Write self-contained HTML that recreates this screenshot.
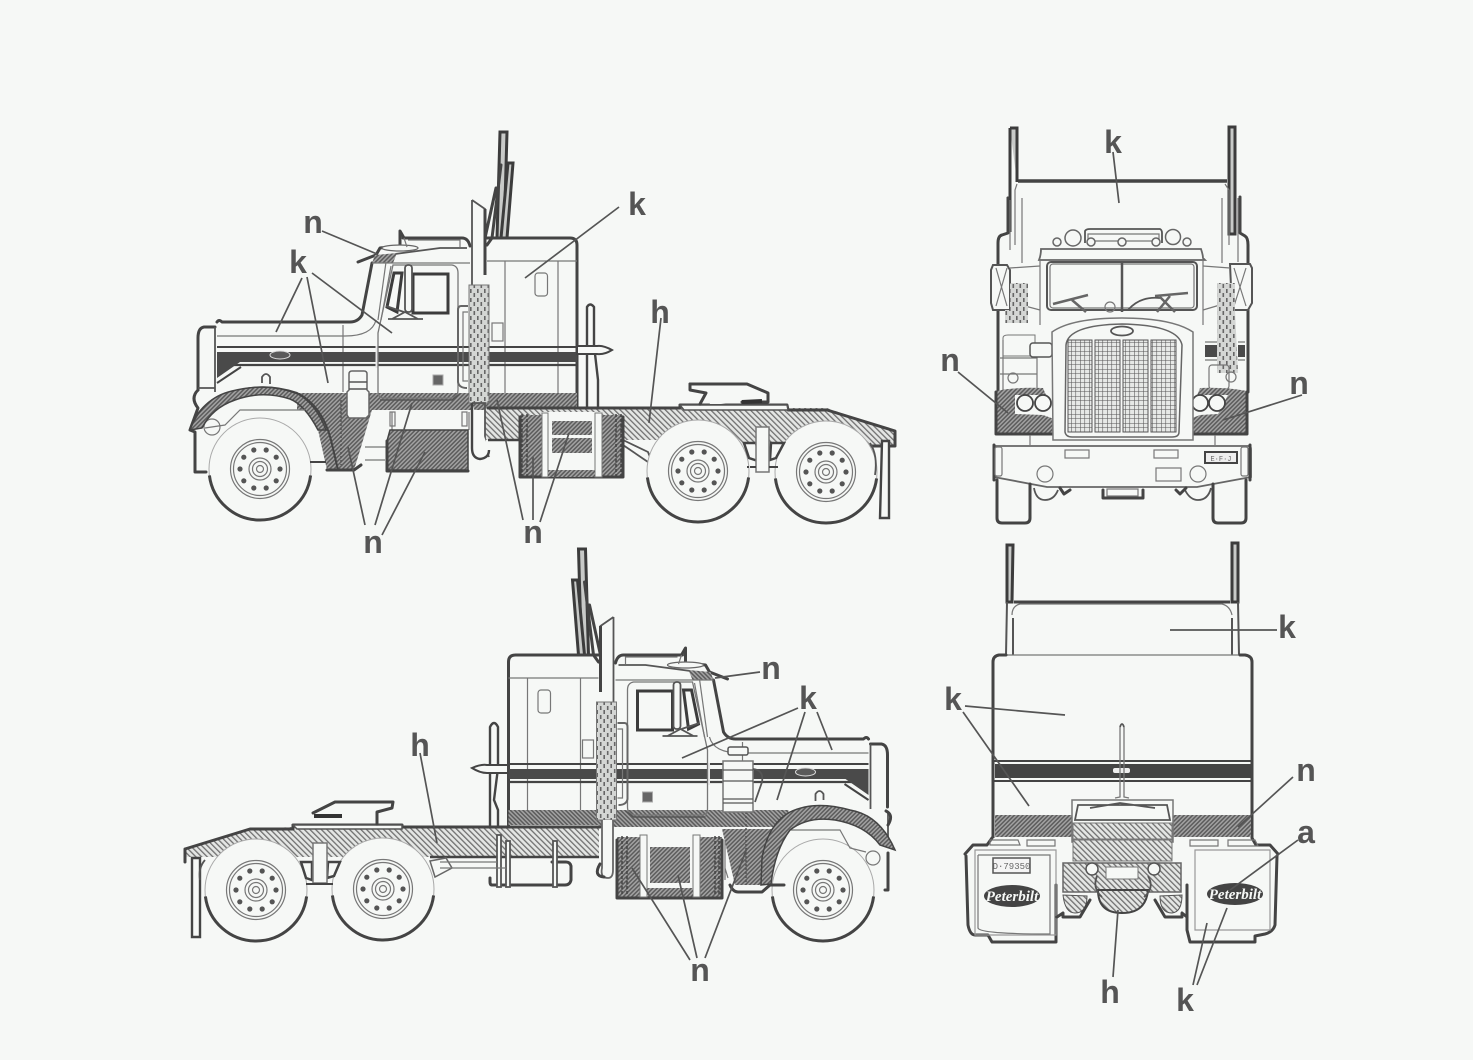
<!DOCTYPE html>
<html><head><meta charset="utf-8"><style>
html,body{margin:0;padding:0;background:#f6f8f6}
svg{display:block}
text.l{font-family:"Liberation Sans",sans-serif;font-weight:700;font-size:32px;fill:#555;text-anchor:middle}
.o{fill:none;stroke:#444;stroke-width:3;stroke-linejoin:round;stroke-linecap:round}
.t{fill:none;stroke:#777;stroke-width:1.2}
.m{fill:none;stroke:#555;stroke-width:1.8}
.f{fill:#f6f8f6;stroke:#555;stroke-width:1.8}
.ld{stroke:#555;stroke-width:1.7;fill:none}
</style></head><body>
<svg width="1473" height="1060" viewBox="0 0 1473 1060" xmlns="http://www.w3.org/2000/svg">
<defs>
<pattern id="hd" width="3" height="3" patternUnits="userSpaceOnUse" patternTransform="rotate(45)"><rect width="3" height="3" fill="#a2a2a2"/><rect width="1.5" height="3" fill="#5c5c5c"/></pattern>
<pattern id="hl" width="4" height="4" patternUnits="userSpaceOnUse" patternTransform="rotate(-45)"><rect width="4" height="4" fill="#e4e6e4"/><rect width="1.3" height="4" fill="#707070"/></pattern>
<pattern id="pf" width="7" height="9" patternUnits="userSpaceOnUse"><rect width="7" height="9" fill="#d4d6d4"/><rect x="1" y="1" width="1.6" height="4" fill="#666"/><rect x="4.5" y="5" width="1.6" height="4" fill="#666"/></pattern>
<pattern id="gr" width="4.5" height="4.5" patternUnits="userSpaceOnUse"><rect width="4.5" height="4.5" fill="#e6e8e6"/><path d="M0 0H4.5M0 0V4.5" stroke="#555" stroke-width="1.1"/></pattern>
<g id="wheel">
<circle r="51" fill="#f6f8f6" stroke="#aaa" stroke-width="1"/>
<path d="M-50.6 6.4 A51 51 0 0 0 50.6 6.4" fill="none" stroke="#444" stroke-width="3"/>
<circle r="29.5" class="t"/><circle r="26.5" class="t"/>
<circle r="11" class="t"/><circle r="7.5" class="t"/><circle r="3.5" class="t"/>
<g fill="#555"><circle cx="20" cy="0" r="2.6"/><circle cx="16.2" cy="11.8" r="2.6"/><circle cx="6.2" cy="19" r="2.6"/><circle cx="-6.2" cy="19" r="2.6"/><circle cx="-16.2" cy="11.8" r="2.6"/><circle cx="-20" cy="0" r="2.6"/><circle cx="-16.2" cy="-11.8" r="2.6"/><circle cx="-6.2" cy="-19" r="2.6"/><circle cx="6.2" cy="-19" r="2.6"/><circle cx="16.2" cy="-11.8" r="2.6"/></g>
</g>
<g id="body">
<!-- stacks behind -->
<path d="M500 132H507L504 238H497Z" fill="#c8cac8" stroke="#3c3c3c" stroke-width="3"/>
<path d="M508 163H513L507 238H501Z" fill="#c8cac8" stroke="#3c3c3c" stroke-width="3"/>
<path d="M496 188L485 238H492L501 165" class="o" stroke-width="2.600"/>
<!-- sleeper -->
<path d="M487 245L492 238H570Q577 238 577 245V408H487Z" fill="#f6f8f6"/>
<path d="M487 245L492 238H570Q577 238 577 245V408" class="o"/>
<path d="M487 261H577M505 261V393M558 261V393" class="t"/>
<rect x="535" y="273" width="12.500" height="23" rx="3" class="t"/>
<rect x="492" y="323" width="11" height="18" class="t"/>
<!-- band -->
<rect x="297" y="393" width="280" height="15" fill="url(#hd)"/>
<rect x="297" y="393" width="190" height="17" fill="url(#hd)"/>
<!-- hood / cab -->
<path d="M403 238H462Q468 238 470 246" class="o"/>
<path d="M358 262L376 255L380 248L400 246L400 231L404 238" class="o"/>
<ellipse cx="400" cy="248" rx="18" ry="3" fill="#f6f8f6" stroke="#666" stroke-width="1.300"/>
<path d="M395 254L440 248L467 248" class="m"/>
<path d="M404 238L407 247M408 240H460V247" class="t"/>
<path d="M375 255L397 253L393 263H372Z" fill="url(#hd)"/>
<path d="M372 263L362 315Q358 322 350 322H222Q219 319 217 322" class="o"/>
<path d="M386 262L378 320M391 266L381 320M372 263H470" class="t"/>
<path d="M217 336H345Q372 336 376 320" class="t"/>
<path d="M343 325V392" class="t"/>
<path d="M217 347H577" stroke="#444" stroke-width="2"/>
<path d="M217 365H240M240 365H577" stroke="#444" stroke-width="2.200"/>
<path d="M217 352H577V362H240L217 378Z" fill="#4a4a4a"/>
<path d="M217 383L241 367" stroke="#444" stroke-width="2"/>
<rect x="375.500" y="346" width="3" height="22" fill="#e8e8e8"/>
<ellipse cx="280" cy="355" rx="10" ry="4" fill="#5a5a5a" stroke="#ddd" stroke-width="1"/>
<path d="M215 327H204Q198 328 198 338V390" class="o"/>
<path d="M215 327V392" class="m"/>
<path d="M393 265H452Q458 266 458 273V390Q458 397 451 398H384Q378 398 378 392V333Z" fill="none" stroke="#777" stroke-width="1.300"/>
<path d="M380 400H452L460 394" stroke="#555" stroke-width="1.500" fill="none"/>
<rect x="413" y="274" width="35" height="39" fill="#f6f8f6" stroke="#3c3c3c" stroke-width="3"/>
<path d="M394 273H402L397 312L387 307Z" fill="#f6f8f6" stroke="#3c3c3c" stroke-width="3"/>
<rect x="405" y="265" width="7" height="47" rx="3" class="f"/>
<path d="M388 319H423M392 319L405 312L418 319M404 312L386 306" class="m"/>
<rect x="433" y="375" width="10" height="10" fill="#666" stroke="#aaa"/>
<path d="M468 306H461Q458 306 458 310V382Q459 388 467 388" fill="none" stroke="#666" stroke-width="2"/>
<path d="M468 312H463V381H468" class="t"/>
<!-- stack -->
<path d="M472 200L485 208V285H472Z" fill="#f6f8f6"/>
<path d="M472 200L485 209V272M472 200V285" class="m"/>
<path d="M485 209V275" stroke="#444" stroke-width="3"/>
<rect x="469" y="285" width="20" height="118" fill="url(#pf)" stroke="#777"/>
<!-- fender bump -->
<path d="M262 383V377Q266 371 270 377V384" class="m" fill="#f6f8f6"/>
</g>
</defs>
<rect width="1473" height="1060" fill="#f6f8f6"/>

<!-- ========== TOP SIDE VIEW ========== -->
<use href="#body"/>
<!-- post -->
<path d="M587 407V307Q590 302 594 307V345L598 380V407" fill="#f6f8f6" stroke="#444" stroke-width="2.400"/>
<path d="M577 346H597Q603 345 612 350Q604 355 597 354H577Z" fill="#f6f8f6" stroke="#444" stroke-width="2"/>
<!-- frame -->
<path d="M485 408H827L895 432V445H660V440H485Z" fill="url(#hl)"/>
<path d="M488 408H680V405H787L788 410H827L895 431V446H870" class="o"/>
<path d="M680 405H787L788 410H684Z" fill="#f6f8f6" stroke="#555" stroke-width="1.500"/>
<path d="M690 383H747L768 392V402H740L721 404H710L700 390H690Z" fill="#f6f8f6"/>
<path d="M690 384H747L768 393V402H742" class="o"/>
<path d="M690 384V390L706 393L700 404" class="o" stroke-width="2"/>
<path d="M742 402L762 401" stroke="#333" stroke-width="4"/>
<path d="M488 440H520" stroke="#444" stroke-width="2.500"/>
<path d="M623 440L648 452L655 470" class="m"/>
<path d="M623 445L648 462" class="m"/>
<!-- wheels -->
<use href="#wheel" x="698" y="471"/>
<use href="#wheel" x="826" y="472"/>
<!-- suspension -->
<path d="M744 443H756L761 462L749 458Z" fill="#f6f8f6" stroke="#444" stroke-width="2.500"/>
<path d="M771 443H784L776 458L770 460Z" fill="#f6f8f6" stroke="#444" stroke-width="2.500"/>
<rect x="756" y="427" width="13" height="45" fill="#f6f8f6" stroke="#777" stroke-width="1.500"/>
<path d="M750 467H756M769 467H778M748 466V468" stroke="#444" stroke-width="2"/>
<!-- mudflap -->
<path d="M882 441H889V518H880Z" fill="#f6f8f6" stroke="#444" stroke-width="2.400"/>
<path d="M870 443Q878 455 875 475" class="m"/>
<!-- front wheel & fender -->
<path d="M198 390Q190 398 198 408L190 430L195 432V472H206" class="o" stroke-width="2.500"/>
<path d="M198 388H215" class="m"/>
<circle cx="212" cy="427" r="8" class="t"/>
<use href="#wheel" x="260" y="469"/>
<path d="M300 393H377L361 447L354 470H327L318 430L303 407Z" fill="url(#hd)"/>
<path d="M190 430Q200 400 232 392Q265 382 297 393Q322 405 331 440L338 470" fill="none" stroke="#444" stroke-width="2"/>
<path d="M190 430Q202 398 232 391Q268 382 298 394Q316 404 326 430L318 430Q305 405 290 399Q262 390 235 400Q212 408 202 428Z" fill="url(#hd)" stroke="#444" stroke-width="1.500"/>
<path d="M327 470H354L361 465" class="o"/>
<path d="M310 462H326" stroke="#444" stroke-width="2"/>
<path d="M205 428L225 425L240 410H305" class="t"/>
<path d="M341 400V465" stroke="#555" stroke-dasharray="2 2" stroke-width="1.500"/>
<!-- air cleaner -->
<path d="M349 374Q349 371 352 371H364Q367 371 367 374V390L369 392V415L366 418H349L347 415V392L349 390Z" fill="#f6f8f6" stroke="#666" stroke-width="1.500"/>
<path d="M349 382H367M349 389H367" stroke="#555" stroke-width="1.500"/>
<!-- under cab -->
<path d="M365 447H390M365 460H385M392 412V430M469 412V430" class="t"/>
<path d="M390 430H468V470H387V441Z" fill="url(#hd)" stroke="#444" stroke-width="1.500"/>
<path d="M387 441V471H468" class="o"/>
<rect x="390" y="412" width="5" height="14" class="t"/><rect x="462" y="412" width="5" height="14" class="t"/>
<!-- pipe -->
<path d="M472 403H485V450Q488 454 489 457" class="m"/>
<path d="M472 403V448Q472 458 480 459Q489 458 489 450" fill="#f6f8f6" stroke="#444" stroke-width="2.400"/>
<!-- fuel tank -->
<rect x="520" y="415" width="103" height="62" fill="url(#hd)"/>
<path d="M520 417V477H623V417" class="o" stroke-width="2.500"/>
<path d="M522 414V477M527 414V477" stroke="#444" stroke-dasharray="3 2" stroke-width="1.500"/>
<path d="M616 414V477M621 414V477" stroke="#444" stroke-dasharray="3 2" stroke-width="1.500"/>
<rect x="542" y="412" width="60" height="58" fill="#f6f8f6"/>
<rect x="542" y="413" width="6" height="64" fill="#f6f8f6" stroke="#777"/>
<rect x="595" y="413" width="7" height="64" fill="#f6f8f6" stroke="#777"/>
<rect x="552" y="421" width="40" height="14" fill="url(#hd)"/>
<rect x="552" y="438" width="40" height="15" fill="url(#hd)"/>
<rect x="548" y="470" width="47" height="7" fill="url(#hd)"/>

<!-- ========== BOTTOM SIDE VIEW ========== -->
<use href="#body" transform="translate(1085.5,417) scale(-1,1)"/>
<path d="M490 826V727Q494 719 498 727V768L494 800L498 810V826" fill="#f6f8f6" stroke="#444" stroke-width="2.400"/>
<path d="M508 765H487Q481 764 472 768Q480 773 487 773H508Z" fill="#f6f8f6" stroke="#444" stroke-width="2"/>
<path d="M185 849L250 829L293 827H599V857H185Z" fill="url(#hl)"/>
<path d="M185 849V862M185 849L250 829H293V825H402V827H600" class="o"/>
<path d="M293 825H402V829H297Z" fill="#f6f8f6" stroke="#555" stroke-width="1.500"/>
<path d="M313 812L335 802H393L392 808L377 812V823H313Z" fill="#f6f8f6"/>
<path d="M313 813L335 802H393L392 808L377 812V824" class="o"/>
<path d="M314 816H342" stroke="#333" stroke-width="4"/>
<path d="M430 857H599" stroke="#444" stroke-width="2.500"/>
<use href="#wheel" x="256" y="890"/>
<use href="#wheel" x="383" y="889"/>
<path d="M301 862H312V880L306 878Z" fill="#f6f8f6" stroke="#444" stroke-width="2.500"/>
<path d="M328 862H340L334 876L327 878Z" fill="#f6f8f6" stroke="#444" stroke-width="2.500"/>
<rect x="313" y="843" width="14" height="40" fill="#f6f8f6" stroke="#777" stroke-width="1.500"/>
<path d="M306 884H333" stroke="#444" stroke-width="2"/>
<path d="M192 858H200V937H192Z" fill="#f6f8f6" stroke="#444" stroke-width="2.400"/>
<path d="M205 860Q198 868 200 880" class="m"/>
<!-- air tank -->
<path d="M430 861L446 858L452 868L435 877Z" fill="#f6f8f6" stroke="#666" stroke-width="1.500"/>
<path d="M490 862H566Q571 864 571 870V880Q570 885 565 885H492Q489 883 489 878Z" fill="#f6f8f6"/>
<path d="M492 885H565Q570 885 571 880V866Q570 862 566 862H552" class="o"/>
<path d="M490 878V882Q490 885 492 885" class="o"/>
<rect x="497" y="835" width="4" height="52" class="f" stroke-width="1.200"/>
<rect x="506" y="841" width="4" height="46" class="f" stroke-width="1.200"/>
<rect x="553" y="841" width="4" height="46" class="f" stroke-width="1.200"/>
<path d="M440 862H497M440 868H506" class="t"/>
<!-- pipe -->
<path d="M602 820V868Q600 878 608 878Q613 878 613 870V820" fill="#f6f8f6" stroke="#666" stroke-width="1.800"/>
<path d="M600 864Q593 876 604 877" class="o"/>
<!-- fuel tank bottom -->
<rect x="617" y="837" width="105" height="61" fill="url(#hd)"/>
<path d="M617 840V898H722V840" class="o" stroke-width="2.500"/>
<path d="M622 836V896M627 836V896M715 836V896M719 836V896" stroke="#444" stroke-dasharray="3 2" stroke-width="1.500"/>
<rect x="640" y="835" width="60" height="53" fill="#f6f8f6"/>
<rect x="640" y="835" width="7" height="62" fill="#f6f8f6" stroke="#777"/>
<rect x="693" y="835" width="7" height="62" fill="#f6f8f6" stroke="#777"/>
<rect x="650" y="847" width="40" height="36" fill="url(#hd)"/>
<rect x="647" y="888" width="46" height="8" fill="url(#hd)"/>
<!-- front wheel -->
<use href="#wheel" x="823" y="890"/>
<path d="M888 811V840L895 850" class="m"/>
<path d="M886 811Q894 815 888 825" class="o" stroke-width="2.500"/>
<path d="M888 853V890H885" class="o" stroke-width="2.500"/>
<circle cx="873" cy="858" r="7" class="t"/>
<path d="M866 852L850 848L840 830H780" class="t"/>
<!-- fender -->
<path d="M722 829H773L767 845L763 885H735Z" fill="url(#hd)"/>
<path d="M895 850Q880 815 850 810Q815 800 790 812Q768 824 762 858L761 885L771 884Q775 850 790 830Q808 816 835 820Q865 825 880 845Z" fill="url(#hd)" stroke="#444" stroke-width="1.500"/>
<path d="M730 885Q733 892 738 892H762L770 885H784" class="o"/>
<path d="M746 812V885" stroke="#555" stroke-dasharray="2 2" stroke-width="1.500"/>
<path d="M725 840L725 880M725 868L728 878" class="t"/>
<!-- air cleaner -->
<rect x="728" y="747" width="20" height="8" rx="2" fill="#f6f8f6" stroke="#555" stroke-width="1.500"/>
<rect x="723" y="761" width="30" height="51" fill="#f6f8f6" stroke="#777" stroke-width="1.500"/>
<path d="M723 770H753M723 781H753M723 799H753M723 803H753" stroke="#555" stroke-width="1.200"/>
<path d="M753 769Q764 770 762 782L755 802" class="m"/>

<!-- ========== FRONT VIEW ========== -->
<path d="M1010 128H1017V182M1010 128V232" fill="#c8cac8" stroke="#3c3c3c" stroke-width="3"/>
<path d="M1229 127H1235V234H1229Z" fill="#c8cac8" stroke="#3c3c3c" stroke-width="3"/>
<path d="M1018 181H1227" stroke="#444" stroke-width="3.500"/>
<path d="M1017 184L1015 190V245M1225 184L1229 190V245" class="t"/>
<path d="M1008 198V233L1002 235Q998 236 998 243V265M1240 197V233L1245 236Q1248 238 1248 245V265" class="o"/>
<path d="M1008 198V232" class="o"/>
<path d="M1010 200V250M1022 198V263" class="t"/>
<path d="M1222 198V263M1238 198V262" class="t"/>
<path d="M998 310V392M1248 310V392" class="o"/>
<!-- lights -->
<path d="M1085 243V231Q1086 229 1090 229H1160Q1162 230 1162 233V243" class="m"/>
<path d="M1088 234H1159V241H1088Z" class="t"/>
<g fill="#f6f8f6" stroke="#666" stroke-width="1.500">
<circle cx="1073" cy="238" r="8"/><circle cx="1173" cy="237" r="7.500"/>
<circle cx="1057" cy="242" r="4"/><circle cx="1091" cy="242" r="4"/><circle cx="1122" cy="242" r="4"/><circle cx="1156" cy="242" r="4"/><circle cx="1187" cy="242" r="4"/>
</g>
<path d="M1041 249H1201Q1203 255 1203 258L1205 260H1039Q1041 255 1041 249Z" fill="#f6f8f6" stroke="#666" stroke-width="1.800"/>
<path d="M1040 260V325M1203 260V325" class="t"/>
<rect x="1047" y="262" width="150" height="48" rx="4" fill="#f6f8f6" stroke="#555" stroke-width="2"/>
<rect x="1050" y="264" width="144" height="44" rx="3" class="t"/>
<path d="M1122 262V312" stroke="#555" stroke-width="2.500"/>
<path d="M1053 304L1088 295M1072 300L1086 312M1155 296L1188 293M1170 296L1157 312M1160 297L1175 312" stroke="#666" stroke-width="2.500" fill="none"/>
<path d="M1128 310Q1140 296 1160 298" class="m"/>
<circle cx="1110" cy="307" r="5" class="t"/>
<!-- mirrors -->
<path d="M993 265H1007L1010 270V310H993L991 303V270Z" fill="#f6f8f6" stroke="#555" stroke-width="2"/>
<path d="M996 268L1007 306M1007 268L996 306" class="t"/>
<path d="M1230 264H1250L1252 268V303L1248 310H1232Z" fill="#f6f8f6" stroke="#555" stroke-width="2"/>
<path d="M1234 268L1246 306M1246 268L1234 306" class="t"/>
<path d="M1010 268L1040 266M1010 302L1040 310M1203 266L1230 268M1203 310L1230 302" class="t"/>
<!-- perforated -->
<path d="M1010 283H1028V323H1005V310H1010Z" fill="url(#pf)"/>
<path d="M1217 283H1235V310H1235L1238 373H1217Z" fill="url(#pf)"/>
<rect x="1205" y="345" width="12" height="12" fill="#4a4a4a"/>
<rect x="1238" y="345" width="7" height="12" fill="#4a4a4a"/>
<path d="M1205 342H1217M1205 360H1217M1238 342H1245M1238 360H1245" class="t"/>
<!-- left side under cab -->
<path d="M1003 338Q1003 335 1008 335H1035V356H1003Z" fill="#f6f8f6" stroke="#777"/>
<path d="M1000 358H1037V390M1003 340V390M1000 374H1037" class="t"/>
<rect x="1030" y="343" width="22" height="14" rx="3" fill="#f6f8f6" stroke="#555" stroke-width="1.500"/>
<circle cx="1013" cy="378" r="5" class="t"/>
<rect x="1209" y="365" width="20" height="24" rx="3" class="t"/><circle cx="1231" cy="377" r="5" class="t"/>
<!-- hatched corners -->
<path d="M996 391Q1015 387 1043 388L1058 423V433H996Z" fill="url(#hd)"/>
<path d="M996 392V434M996 434H1058" class="o" stroke-width="2.500"/>
<path d="M1247 391Q1225 387 1200 388L1186 423V433H1247Z" fill="url(#hd)"/>
<path d="M1247 392V434M1247 434H1186" class="o" stroke-width="2.500"/>
<path d="M1015 395H1047L1057 410V420L1043 415L1015 414Z" fill="#f6f8f6"/>
<path d="M1195 395H1228L1218 414L1200 415L1187 420V410Z" fill="#f6f8f6"/>
<g fill="#f6f8f6" stroke="#444" stroke-width="1.800">
<circle cx="1025" cy="403" r="8"/><circle cx="1043" cy="403" r="8"/>
<circle cx="1200" cy="403" r="8"/><circle cx="1217" cy="403" r="8"/>
</g>
<!-- grille -->
<path d="M1052 332Q1072 318 1122 318Q1172 318 1193 332V440H1053Z" fill="#f6f8f6" stroke="#777" stroke-width="1.500"/>
<path d="M1066 345Q1068 325 1122 324Q1178 325 1182 345L1179 432Q1179 437 1172 437H1072Q1066 437 1065 432Z" fill="#f6f8f6" stroke="#666" stroke-width="1.500"/>
<rect x="1068" y="340" width="24" height="92" fill="url(#gr)" stroke="#555"/>
<rect x="1095" y="340" width="25" height="92" fill="url(#gr)" stroke="#555"/>
<rect x="1123" y="340" width="25" height="92" fill="url(#gr)" stroke="#555"/>
<rect x="1151" y="340" width="25" height="92" fill="url(#gr)" stroke="#555"/>
<ellipse cx="1122" cy="331" rx="11" ry="4.500" fill="#f6f8f6" stroke="#555" stroke-width="1.800"/>
<!-- bumper -->
<path d="M994 446H1250Q1251 446 1251 450V477L1197 487H1047L994 477Z" fill="#f6f8f6" stroke="#666" stroke-width="1.800"/>
<path d="M994 445V480M1250 445V480" class="o" stroke-width="2"/>
<rect x="995" y="447" width="7" height="29" rx="2" class="t"/><rect x="1241" y="447" width="7" height="29" rx="2" class="t"/>
<rect x="1065" y="450" width="24" height="8" class="t"/><rect x="1154" y="450" width="24" height="8" class="t"/>
<rect x="1156" y="468" width="25" height="13" class="t"/>
<rect x="1205" y="452" width="32" height="11" fill="#eee" stroke="#444" stroke-width="2"/>
<text x="1221" y="461" font-family="Liberation Mono,monospace" font-size="7" fill="#666" text-anchor="middle">E·F·J</text>
<circle cx="1045" cy="474" r="8" class="t"/><circle cx="1198" cy="474" r="8" class="t"/>
<path d="M1030 435V445M1215 435V445" class="t"/>
<!-- tires -->
<path d="M997 480V518Q997 523 1002 523H1025Q1030 523 1030 518V484" class="o" stroke-width="2.500"/>
<path d="M1246 480V518Q1246 523 1241 523H1218Q1213 523 1213 518V484" class="o" stroke-width="2.500"/>
<path d="M1034 488Q1036 500 1045 500Q1054 500 1058 490M1185 490Q1190 500 1198 500Q1208 500 1211 488" class="m"/>
<path d="M1060 488L1064 494L1070 490M1103 490V498H1143V490M1176 490L1180 494L1186 488" class="o" stroke-width="2"/>
<rect x="1107" y="489" width="31" height="7" class="t"/>

<!-- ========== REAR VIEW ========== -->
<path d="M1007 545H1013L1012 602H1007Z" fill="#c8cac8" stroke="#3c3c3c" stroke-width="3"/>
<path d="M1232 543H1238L1238 602H1232Z" fill="#c8cac8" stroke="#3c3c3c" stroke-width="3"/>
<path d="M1007 602L1006 655M1013 618V655M1232 618V655M1238 602L1239 655" stroke="#555" stroke-width="2" fill="none"/>
<path d="M1014 602H1230" stroke="#444" stroke-width="3"/>
<path d="M1012 615Q1012 606 1020 604H1222Q1230 606 1232 615" class="t"/>
<path d="M1000 655H1245" class="t"/>
<path d="M993 838V662Q993 656 999 655H1006M1240 655H1245Q1252 656 1252 662V838" class="o"/>
<rect x="995" y="764" width="256" height="14" fill="#444"/>
<path d="M994 761H1251M994 781H1251" stroke="#444" stroke-width="2"/>
<rect x="1113" y="768" width="17" height="5" rx="2" fill="#eee"/>
<path d="M1120 727V797L1115 798M1124 727V797L1129 798" stroke="#777" stroke-width="1.300" fill="none"/>
<path d="M1120 727Q1122 721 1124 727" class="m"/>
<rect x="995" y="815" width="256" height="22" fill="url(#hd)"/>
<!-- mudflaps -->
<path d="M965 852L973 845H987L992 838H1057V942H990L987 935H973L968 925V860Z" fill="#f6f8f6"/>
<path d="M966 856L968 925Q970 935 975 935H988L992 942H1056V885" class="o" stroke-width="2.500"/>
<path d="M965 854L973 845H987L992 838" class="o" stroke-width="2.500"/>
<path d="M975 850H1056V935H975Z" fill="none" stroke="#999" stroke-width="1.200"/>
<path d="M978 855V928Q980 934 1050 934V855H978" class="t"/>
<path d="M1278 852L1270 845H1256L1252 838H1187V942H1255L1258 935H1270L1275 925V860Z" fill="#f6f8f6"/>
<path d="M1277 856L1275 925Q1273 932 1265 934L1255 936V942H1190L1187 930V885" class="o" stroke-width="2.500"/>
<path d="M1278 854L1270 845H1256L1252 838" class="o" stroke-width="2.500"/>
<path d="M1195 850H1270V930H1195Z" fill="none" stroke="#999" stroke-width="1.200"/>
<rect x="993" y="858" width="37" height="15" fill="#f4f4f4" stroke="#555" stroke-width="1.500"/>
<text x="1011.500" y="869" font-family="Liberation Mono,monospace" font-size="9" fill="#666" text-anchor="middle">D·79350</text>
<ellipse cx="1012" cy="896" rx="28" ry="11" fill="#444"/>
<ellipse cx="1235" cy="894" rx="28" ry="11" fill="#444"/>
<text x="1012" y="901" font-family="Liberation Serif,serif" font-style="italic" font-weight="700" font-size="15" fill="#f6f8f6" text-anchor="middle">Peterbilt</text>
<text x="1235" y="899" font-family="Liberation Serif,serif" font-style="italic" font-weight="700" font-size="15" fill="#f6f8f6" text-anchor="middle">Peterbilt</text>
<path d="M990 840H1018L1020 845H990ZM1027 840H1055V846H1027ZM1190 840H1218V846H1190ZM1228 840H1255L1258 846H1228Z" class="t" fill="#f6f8f6"/>
<!-- center -->
<rect x="1072" y="800" width="101" height="42" fill="#f6f8f6" stroke="#777" stroke-width="1.500"/>
<path d="M1078 805H1167L1170 820H1075ZM1090 808L1120 803L1155 808" class="m"/>
<rect x="1073" y="823" width="99" height="16" fill="url(#hl)" stroke="#777"/>
<rect x="1073" y="840" width="99" height="21" fill="url(#hl)" stroke="#777"/>
<rect x="1063" y="863" width="118" height="29" fill="url(#hl)" stroke="#666" stroke-width="1.500"/>
<rect x="1106" y="867" width="32" height="12" fill="#f6f8f6" stroke="#777"/>
<circle cx="1092" cy="869" r="6" fill="#f6f8f6" stroke="#555" stroke-width="1.500"/>
<circle cx="1154" cy="869" r="6" fill="#f6f8f6" stroke="#555" stroke-width="1.500"/>
<path d="M1098 890Q1098 913 1122 913Q1146 913 1148 890Z" fill="url(#hl)" stroke="#444" stroke-width="2"/>
<path d="M1097 876Q1092 888 1102 897M1148 876Q1155 888 1144 897" class="m"/>
<path d="M1063 895Q1065 913 1075 913Q1087 913 1087 896Z" fill="url(#hl)" stroke="#555"/>
<path d="M1160 896Q1160 913 1172 913Q1182 912 1182 895Z" fill="url(#hl)" stroke="#555"/>
<path d="M1057 917L1063 913V917H1080L1090 900M1187 917L1182 913V917H1165L1155 900" class="o" stroke-width="2"/>

<!-- ========== LEADERS ========== -->
<g class="ld">
<path d="M322 231L377 254M302 278L276 332M307 277L328 383M312 273L392 333M619 207L525 278M661 318L649 423"/>
<path d="M365 525L348 447M375 525L412 403M382 535L425 452M523 520L497 400M533 520V457M540 522L569 433"/>
<path d="M1113 152L1119 203M958 372L1008 413M1302 395L1223 420"/>
<path d="M760 672L715 678M798 708L682 758M805 712L777 800M817 712L832 750M420 753L437 843"/>
<path d="M690 960L632 868M697 958L678 875M705 958L747 848"/>
<path d="M1277 630H1170M965 706L1065 715M963 712L1029 806M1293 777L1238 827M1298 840L1230 890"/>
<path d="M1193 985L1207 923M1197 985L1227 908M1113 977L1118 910"/>
</g>
<!-- ========== LABELS ========== -->
<text class="l" x="313" y="233">n</text>
<text class="l" x="298" y="273">k</text>
<text class="l" x="637" y="215">k</text>
<text class="l" x="660" y="323">h</text>
<text class="l" x="373" y="553">n</text>
<text class="l" x="533" y="543">n</text>
<text class="l" x="1113" y="153">k</text>
<text class="l" x="950" y="371">n</text>
<text class="l" x="1299" y="394">n</text>
<text class="l" x="771" y="679">n</text>
<text class="l" x="808" y="709">k</text>
<text class="l" x="420" y="756">h</text>
<text class="l" x="700" y="981">n</text>
<text class="l" x="1287" y="638">k</text>
<text class="l" x="953" y="710">k</text>
<text class="l" x="1306" y="781">n</text>
<text class="l" x="1306" y="843">a</text>
<text class="l" x="1110" y="1003">h</text>
<text class="l" x="1185" y="1011">k</text>
</svg>
</body></html>
